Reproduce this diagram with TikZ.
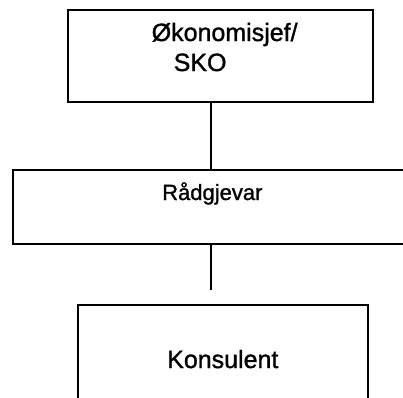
\documentclass[tikz,border=0pt]{standalone}
\usepackage{fontspec}
\setmainfont{Liberation Sans}
\newfontfamily\heavysans{Liberation Sans}[FakeBold=1.2]
\begin{document}
\begin{tikzpicture}[x=1pt,y=-1pt,
  box/.style={draw=black,line width=1.5pt,rectangle,inner sep=0pt},
  lbl/.style={anchor=base west,inner sep=0pt,text=black},
  conn/.style={draw=black,line width=1.5pt}]
\useasboundingbox (0,0) rectangle (403,397);
\clip (0,0) rectangle (403,397);
\node[box,minimum width=305pt,minimum height=92pt] (b1) at (220.5,56) {};
\node[box,minimum width=460pt,minimum height=74pt] (b2) at (243,207) {};
\node[box,minimum width=290pt,minimum height=115pt] (b3) at (223,362.5) {};
\node[lbl,font=\heavysans\fontsize{25}{29}\selectfont] (t1) at (151.5,41) {Økonomisjef/};
\node[lbl,font=\heavysans\fontsize{25}{29}\selectfont] (t1b) at (173.5,71) {SKO};
\node[lbl,font=\heavysans\fontsize{22}{26}\selectfont] (t2) at (162,200) {Rådgjevar};
\node[lbl,font=\heavysans\fontsize{25}{29}\selectfont] (t3) at (167,368) {Konsulent};
\coordinate (c1) at (211,102);
\coordinate (c2) at (211,170);
\coordinate (c3) at (211,244);
\coordinate (c4) at (211,290);
\draw[conn] (c1) -- (c2);
\draw[conn] (c3) -- (c4);
\end{tikzpicture}
\end{document}
